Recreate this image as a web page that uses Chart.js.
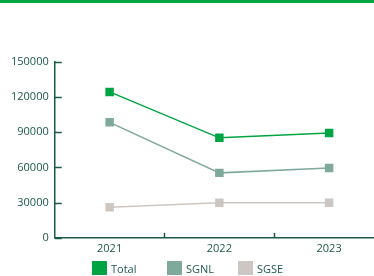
<!DOCTYPE html>
<html><head><meta charset="utf-8">
<script src="https://cdn.jsdelivr.net/npm/chart.js@4/dist/chart.umd.min.js"></script>
<style>
html,body{margin:0;padding:0;background:#fff;overflow:hidden;width:374px;height:276px}
#bar{position:absolute;left:0;top:0;width:374px;height:3px;background:#00a443}
#wrap{position:absolute;left:0;top:0;width:390px;height:276px}
#legend{position:absolute;left:92px;top:261px;height:14px;display:flex;font:11px 'Open Sans';color:#1b5a4b}
#legend .it{display:flex;align-items:center;height:14px}
#legend .sw{width:15px;height:14px;margin-right:4px}
</style></head>
<body>
<div id="wrap"><canvas id="c" width="390" height="276"></canvas></div>
<div id="bar"></div>
<div id="legend"></div>
<script>
const categories = ['2021', '2022', '2023'];
const seriesNames = ['Total', 'SGNL', 'SGSE'];
const totalValues = [124500, 85300, 89400];
const sgnlValues = [98500, 55400, 59500];
const sgseValues = [26000, 29900, 29900];
const yTicks = [0, 30000, 60000, 90000, 120000, 150000];

const axisColor = '#1b5a4b';
const colors = ['#00a443', '#7fa99a', '#cdc7c3'];
const font = {family: 'Open Sans', size: 11};

const tickPlugin = {
  id: 'inTicks',
  afterDraw(chart) {
    const ctx = chart.ctx, y = chart.scales.y, x = chart.scales.x;
    ctx.save();
    ctx.strokeStyle = axisColor;
    ctx.lineWidth = 1.5;
    y.ticks.forEach((t, i) => {
      const py = Math.round(y.getPixelForTick(i)) + 0.5;
      ctx.beginPath(); ctx.moveTo(y.right, py); ctx.lineTo(y.right + 7, py); ctx.stroke();
    });
    for (let i = 0; i < categories.length - 1; i++) {
      const px = Math.round((x.getPixelForValue(i) + x.getPixelForValue(i + 1)) / 2) + 0.5;
      ctx.beginPath(); ctx.moveTo(px, x.top); ctx.lineTo(px, x.top - 5); ctx.stroke();
    }
    ctx.restore();
  }
};

function ds(label, data, color) {
  return {label, data, borderColor: color, backgroundColor: color, borderWidth: 1.5,
    pointStyle: 'rect', pointRadius: 6, pointHoverRadius: 6, pointBorderWidth: 0, tension: 0};
}

const chart = new Chart(document.getElementById('c'), {
  type: 'line',
  data: {labels: categories, datasets: [
    ds(seriesNames[0], totalValues, colors[0]),
    ds(seriesNames[1], sgnlValues, colors[1]),
    ds(seriesNames[2], sgseValues, colors[2])
  ]},
  options: {
    responsive: false, animation: false,
    layout: {padding: {top: 62, left: 5, right: 2, bottom: 17}},
    plugins: {tooltip: {enabled: false}, legend: {display: false}},
    scales: {
      x: {offset: true,
        grid: {display: false, drawTicks: false},
        border: {color: axisColor, width: 1.5},
        ticks: {color: axisColor, font: font, padding: 4}},
      y: {min: 0, max: 150000,
        afterBuildTicks(s) { s.ticks = yTicks.map(v => ({value: v})); },
        grid: {display: false, drawTicks: false},
        border: {color: axisColor, width: 1.5},
        ticks: {color: axisColor, font: font, padding: 6, callback: v => String(v)}}
    }
  },
  plugins: [tickPlugin]
});

const lg = document.getElementById('legend');
const widths = [75, 71, 60];
chart.data.datasets.forEach((d, i) => {
  const it = document.createElement('div');
  it.className = 'it';
  it.style.width = widths[i] + 'px';
  it.innerHTML = '<span class="sw" style="background:' + d.borderColor + '"></span><span>' + d.label + '</span>';
  lg.appendChild(it);
});
</script>
</body></html>
